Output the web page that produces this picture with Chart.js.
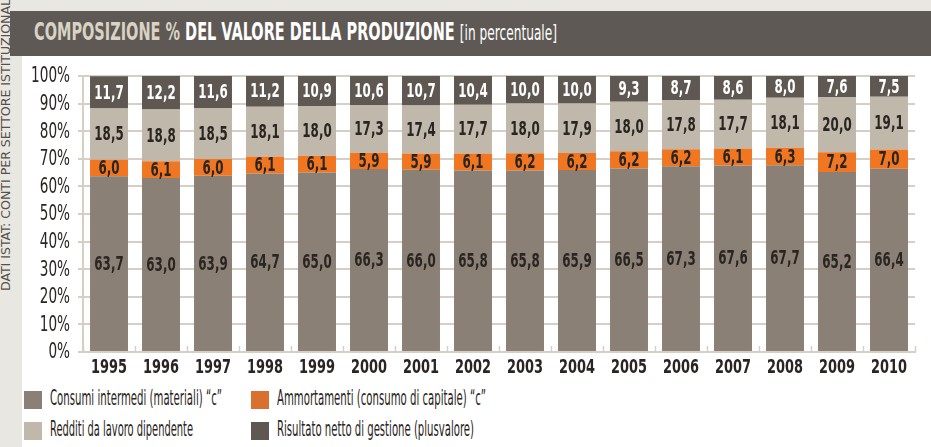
<!DOCTYPE html>
<html>
<head>
<meta charset="utf-8">
<script src="https://cdn.jsdelivr.net/npm/chart.js@4/dist/chart.umd.min.js"></script>
<style>
  html, body { margin:0; padding:0; }
  body { width:931px; height:447px; background:#e9e7e2; position:relative; overflow:hidden;
         font-family:"DejaVu Sans Condensed","DejaVu Sans",sans-serif; }
  #side { position:absolute; left:-1px; top:291px; transform-origin:0 0;
          font-size:12px; color:#55504b; white-space:nowrap; }
  #titlebar { position:absolute; left:10px; top:11px; width:921px; height:45px; background:#5f5955; }
  #title { position:absolute; left:24px; top:6px; font-size:25px; font-weight:bold; color:#fff; white-space:nowrap; transform-origin:0 50%;}
  #title .a { color:#d8d3c4; }
  #title .c { font-weight:normal; font-size:21px; }
  #panel { position:absolute; left:22px; top:56px; width:909px; height:391px; background:#fff; }
  #wrap { position:absolute; left:0; top:0; width:909px; height:326px; }
  .leg { position:absolute; font-size:22px; color:#2a2522; white-space:nowrap; transform-origin:0 50%; }
  .sw { position:absolute; width:18px; height:18px; }
</style>
</head>
<body>
<div id="side">DATI ISTAT: CONTI PER SETTORE ISTITUZIONALE</div>
<div id="titlebar"><div id="title"><span class="a">COMPOSIZIONE %</span> DEL VALORE DELLA PRODUZIONE <span class="c">[in percentuale]</span></div></div>
<div id="panel">
  <div id="wrap"><canvas id="c"></canvas></div>
</div>
<div id="legend"></div>
<script>
const years = ["1995","1996","1997","1998","1999","2000","2001","2002","2003","2004","2005","2006","2007","2008","2009","2010"];
const consumi     = [63.7,63.0,63.9,64.7,65.0,66.3,66.0,65.8,65.8,65.9,66.5,67.3,67.6,67.7,65.2,66.4];
const ammortamenti= [6.0,6.1,6.0,6.1,6.1,5.9,5.9,6.1,6.2,6.2,6.2,6.2,6.1,6.3,7.2,7.0];
const redditi     = [18.5,18.8,18.5,18.1,18.0,17.3,17.4,17.7,18.0,17.9,18.0,17.8,17.7,18.1,20.0,19.1];
const risultato   = [11.7,12.2,11.6,11.2,10.9,10.6,10.7,10.4,10.0,10.0,9.3,8.7,8.6,8.0,7.6,7.5];
const yTicks = [0,10,20,30,40,50,60,70,80,90,100];
const seriesNames = ["Consumi intermedi (materiali) \u201cc\u201d","Ammortamenti (consumo di capitale) \u201cc\u201d","Redditi da lavoro dipendente","Risultato netto di gestione (plusvalore)"];

const barColors = ["#8a8075","#f07622","#bfb8ab","#5f5852"];
const legendColors = ["#8a8075","#d9702e","#bfb8ab","#5f5852"];
const labelColors = ["#2a2522","#2a2522","#2a2522","#ffffff"];
const FONT = '"DejaVu Sans Condensed","DejaVu Sans",sans-serif';

function scaleFor(el, w){
  const r = el.getBoundingClientRect().width;
  return r>0 ? w/r : 1;
}

// legend (HTML)
const legPos = [[24,391],[251,391],[24,422],[251,422]];
const legW = [172,209,143,197];
const legEl = document.getElementById('legend');
[0,1,2,3].forEach((i)=>{
  const [x,y] = legPos[i];
  const s = document.createElement('div'); s.className='sw';
  s.style.left=x+'px'; s.style.top=y+'px'; s.style.background=legendColors[i];
  const t = document.createElement('div'); t.className='leg';
  t.style.left=(x+26)+'px'; t.style.top=(y-6)+'px'; t.textContent=seriesNames[i];
  legEl.appendChild(s); legEl.appendChild(t);
  t.style.transform = 'scaleX(' + scaleFor(t, legW[i]) + ')';
});
const titleEl = document.getElementById('title');
titleEl.style.transform = 'scaleX(' + scaleFor(titleEl, 523) + ')';
const sideEl = document.getElementById('side');
sideEl.style.transform = 'rotate(-90deg) scaleX(' + scaleFor(sideEl, 300) + ')';

function drawFit(ctx, text, x, y, align, w){
  const m = ctx.measureText(text).width;
  const s = w / m;
  ctx.save();
  ctx.translate(x, y);
  ctx.scale(s, 1);
  ctx.textAlign = align;
  ctx.fillText(text, 0, 0);
  ctx.restore();
}

const labelPlugin = {
  id:'labels',
  afterDraw(chart){
    const ctx = chart.ctx;
    ctx.save();
    ctx.textBaseline='middle';
    // value labels
    ctx.font = 'bold 20px ' + FONT;
    chart.data.datasets.forEach((ds,di)=>{
      const meta = chart.getDatasetMeta(di);
      meta.data.forEach((bar,i)=>{
        const v = ds.data[i];
        const yc = (bar.y + bar.base)/2;
        ctx.fillStyle = labelColors[di];
        const txt = v.toFixed(1).replace('.',',');
        drawFit(ctx, txt, bar.x, yc+1, 'center', ctx.measureText(txt).width*0.66);
      });
    });
    // y tick labels
    const ys = chart.scales.y;
    ctx.font = '21px ' + FONT;
    ctx.fillStyle = '#2a2522';
    yTicks.forEach(v=>{
      const txt = v + '%';
      drawFit(ctx, txt, ys.left + 48, ys.getPixelForValue(v) + 1, 'right', ctx.measureText(txt).width*0.72);
    });
    // x tick labels
    const xs = chart.scales.x;
    ctx.font = 'bold 20px ' + FONT;
    years.forEach((yr,i)=>{
      drawFit(ctx, yr, xs.getPixelForValue(i), chart.chartArea.bottom + 16, 'center', 36);
    });
    // small tick marks on category boundaries
    ctx.strokeStyle = '#d5cfc6'; ctx.lineWidth = 1.5;
    const bottom = chart.chartArea.bottom;
    for (let i=0;i<=years.length;i++){
      const px = Math.round(xs.getPixelForValue(i-0.5))+0.5;
      ctx.beginPath(); ctx.moveTo(px,bottom); ctx.lineTo(px,bottom-6); ctx.stroke();
    }
    ctx.restore();
  }
};

const datasets = [consumi,ammortamenti,redditi,risultato].map((d,i)=>({
  label: seriesNames[i], data: d, backgroundColor: barColors[i], borderWidth:0,
  barPercentage: 0.73, categoryPercentage: 1.0
}));

new Chart(document.getElementById('c'), {
  type:'bar',
  data:{ labels: years, datasets },
  options:{
    responsive:true, maintainAspectRatio:false, animation:false,
    layout:{ padding:{ top:20, right:16, left:0, bottom:0 } },
    plugins:{ legend:{display:false}, tooltip:{enabled:false} },
    scales:{
      x:{ stacked:true, offset:true,
          grid:{ display:false, drawTicks:false },
          border:{ display:true, color:'#d5cfc6', width:2 },
          ticks:{ color:'rgba(0,0,0,0)', font:{ family:FONT, size:16, weight:'bold' }, padding:6 },
          afterFit(s){ s.height = 30; }
      },
      y:{ stacked:true, min:0, max:100, z:1,
          afterBuildTicks(s){ s.ticks = yTicks.map(v=>({value:v})); },
          grid:{ color:'#d5cfc6', lineWidth:2, drawTicks:true, tickLength:5 },
          border:{ display:true, color:'#d5cfc6', width:2 },
          ticks:{ color:'rgba(0,0,0,0)', font:{ family:FONT, size:16 }, padding:4,
                  callback:v=> v+'%' },
          afterFit(s){ s.width = 61; }
      }
    }
  },
  plugins:[labelPlugin]
});
</script>
</body>
</html>
